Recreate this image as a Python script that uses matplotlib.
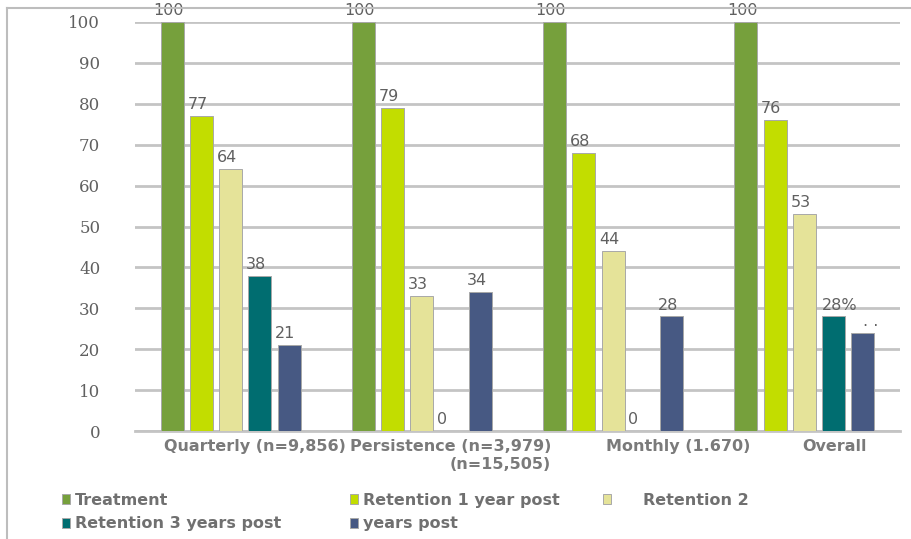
import numpy as np
import matplotlib.pyplot as plt
from matplotlib.lines import Line2D

groups = ["Quarterly (n=9,856)", "Persistence (n=3,979)\n(n=15,505)",
          "Monthly (1.670)", "Overall"]
series = ["Treatment", "Retention 1 year post", "Retention 2",
          "Retention 3 years post", "years post"]

treatment = [100, 100, 100, 100]
retention_1 = [77, 79, 68, 76]
retention_2 = [64, 33, 44, 53]
retention_3 = [38, 0, 0, 28]
retention_4 = [21, 34, 28, 24]

# printed value labels; the overall group uses its own text
label_text = [
    ["100", "100", "100", "100"],
    ["77", "79", "68", "76"],
    ["64", "33", "44", "53"],
    ["38", "0", "0", "28%"],
    ["21", "34", "28", ". ."],
]

yticks = [0, 10, 20, 30, 40, 50, 60, 70, 80, 90, 100]

colors = ["#76A03C", "#C2DD00", "#E5E399", "#006D70", "#475983"]
values = [treatment, retention_1, retention_2, retention_3, retention_4]

fig = plt.figure(figsize=(9.12, 5.39), dpi=100)
ax = fig.add_axes([135 / 912, 1 - 431 / 539, 765 / 912, 409 / 539])

x = np.arange(len(groups))
step = 0.153
width = 0.12
handles = []
for k, (vals, col) in enumerate(zip(values, colors)):
    pos = x + (k - 2) * step
    bars = ax.bar(pos, vals, width, color=col, edgecolor="#a8a8a8",
                  linewidth=0.7, zorder=3)
    handles.append(bars)
    for p, v, t in zip(pos, vals, label_text[k]):
        dx = -0.05 if v == 0 else -0.02
        if t == "28%":
            dx = 0.03
        if t == ". .":
            dx = 0.04
        ax.text(p + dx, v + 2.8, t, ha="center", va="center",
                fontsize=11.5, color="#606060", zorder=4)

ax.set_xlim(-0.5, 3.5)
ax.set_ylim(0, 100)
ax.set_yticks(yticks)
ax.set_yticklabels([str(t) for t in yticks], family="DejaVu Serif",
                   fontsize=12, color="#606060")
ax.yaxis.grid(True, color="#c4c4c4", linewidth=2, zorder=0)
ax.set_axisbelow(True)
ax.tick_params(axis="y", length=0, pad=25)

# category labels sit a little right of each group
label_pos = [0.125, 1.15, 2.34, 3.16]
ax.set_xticks(label_pos)
ax.set_xticklabels(groups, fontsize=11.5, fontweight="bold", color="#7a7a7a")
for t in ax.get_xticklabels():
    t.set_multialignment("right")
ax.tick_params(axis="x", length=0, pad=6)

for s in ["top", "right", "left"]:
    ax.spines[s].set_visible(False)
ax.spines["bottom"].set_color("#c4c4c4")
ax.spines["bottom"].set_linewidth(2)

# legend in three loose columns
legend_cols = [([0, 3], 52, 0.3), ([1, 4], 340, 0.3), ([2], 593, 2.0)]
for idx, left, pad in legend_cols:
    fig.legend([handles[i] for i in idx], [series[i] for i in idx],
               loc="upper left", bbox_to_anchor=(left / 912, 1 - 483 / 539),
               ncol=1, frameon=False, handlelength=0.55, handleheight=0.55,
               handletextpad=pad, labelspacing=0.55, borderaxespad=0.2,
               prop={"size": 11.5, "weight": "bold"}, labelcolor="#707070")

# outer frame: top and left edges
fig.add_artist(Line2D([7 / 912, 1], [1 - 8 / 539, 1 - 8 / 539],
                      color="#bdbdbd", linewidth=1.5))
fig.add_artist(Line2D([7 / 912, 7 / 912], [0, 1 - 8 / 539],
                      color="#bdbdbd", linewidth=1.5))

fig.savefig("out.png", dpi=100)
